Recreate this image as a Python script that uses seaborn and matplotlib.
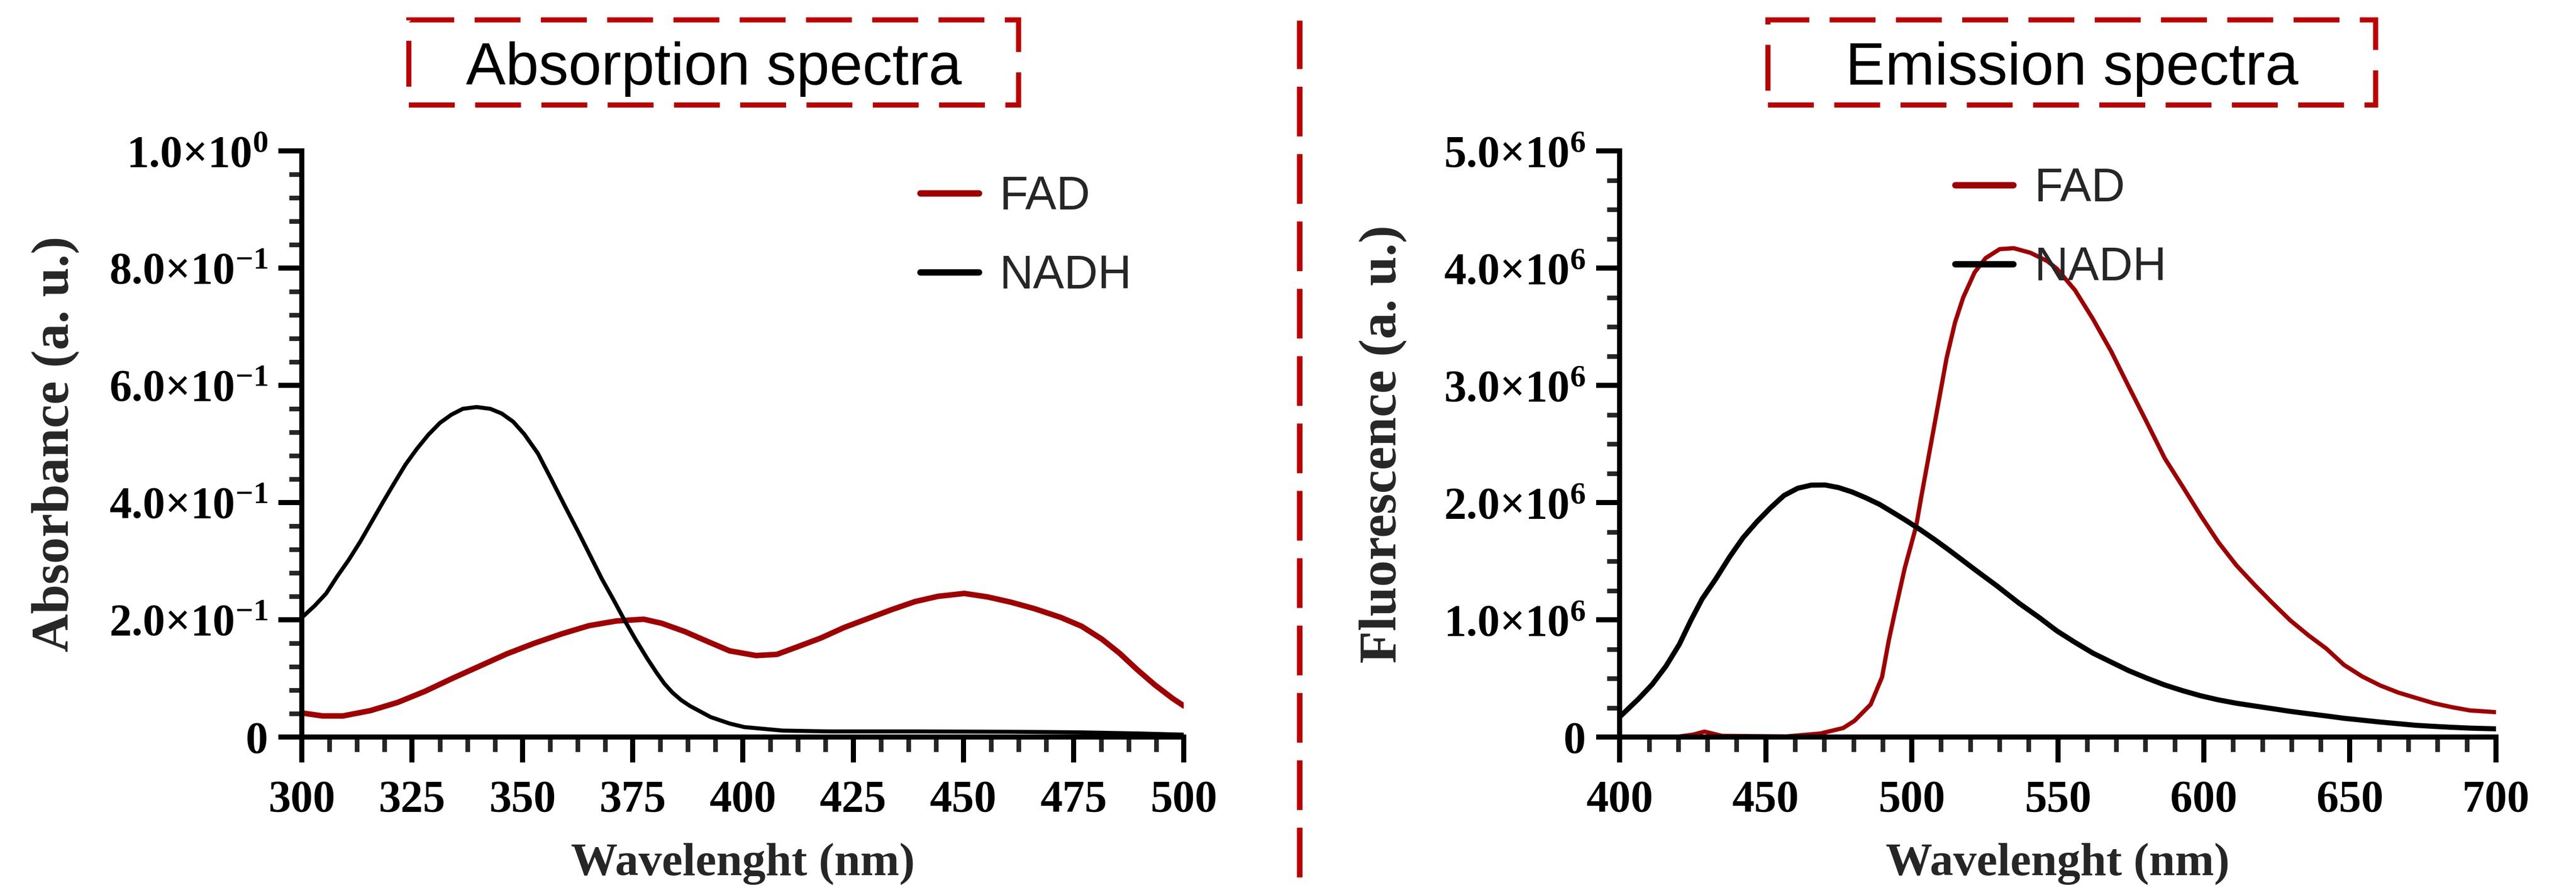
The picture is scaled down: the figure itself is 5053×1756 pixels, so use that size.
import numpy as np
import pandas as pd
import seaborn as sns
import matplotlib
matplotlib.use("Agg")
import matplotlib.pyplot as plt
from matplotlib.patches import Rectangle
from matplotlib.lines import Line2D
from matplotlib.ticker import MultipleLocator

# ---- absorption spectra ----
abs_nadh_wl = [300.3, 302.9, 305.5, 308, 310.6, 313.2, 315.8, 318.4, 321, 323.5, 326.1, 328.7, 331.3,
               333.9, 336.5, 339.6, 342.7, 345.3, 347.9, 350.4, 353.5, 356.6, 359.7, 362.8, 365.4,
               368, 370.6, 373.1, 375.7, 378.3, 380.4, 382.2, 384, 386, 388, 392.7, 397, 400.3, 409,
               420, 440, 460, 476, 490, 500]
abs_nadh = [0.206, 0.224, 0.245, 0.274, 0.302, 0.333, 0.367, 0.401, 0.434, 0.465, 0.492, 0.516, 0.536,
            0.550, 0.560, 0.563, 0.560, 0.552, 0.538, 0.517, 0.484, 0.439, 0.393, 0.348, 0.309, 0.270,
            0.235, 0.200, 0.166, 0.134, 0.110, 0.091, 0.076, 0.063, 0.053, 0.034, 0.023, 0.017, 0.011,
            0.0095, 0.0095, 0.009, 0.008, 0.006, 0.004]

abs_fad_wl = [300, 304.7, 309.3, 315.5, 321.7, 327.9, 334.1, 340.3, 346.5, 352.7, 358.9, 365.1, 371.3,
              377.5, 381.6, 386.8, 392, 397, 403, 407.7, 412.4, 417.7, 423, 428.3, 433.6, 439, 444.2,
              450.2, 455.5, 460.8, 466.1, 472.1, 476.8, 481.4, 485.4, 489.4, 493.4, 497.4, 500]
abs_fad = [0.041, 0.036, 0.036, 0.045, 0.059, 0.078, 0.100, 0.121, 0.142, 0.160, 0.176, 0.190, 0.198,
           0.201, 0.194, 0.180, 0.163, 0.147, 0.139, 0.141, 0.154, 0.169, 0.187, 0.202, 0.217, 0.231,
           0.240, 0.245, 0.239, 0.230, 0.219, 0.204, 0.189, 0.167, 0.143, 0.115, 0.089, 0.066, 0.053]

# ---- emission spectra (x1e6) ----
em_nadh_wl = [400.2, 406.4, 411.1, 415.8, 420.4, 424.3, 428.2, 432.9, 437.6, 442.2, 446.9, 451.6,
              456.2, 460.9, 465.6, 470.3, 474.9, 479.6, 484.3, 489, 493.6, 498.3, 503, 507.6, 512.3,
              517, 521.5, 529.1, 536.8, 543.6, 549.7, 555.9, 562, 568.2, 574.3, 580.5, 586.6, 592.8,
              598.9, 605, 611.2, 617.3, 623.5, 629.6, 635.8, 641.9, 648, 654.2, 660.3, 666.5, 672.6,
              678.8, 684.9, 691.1, 700]
em_nadh = [0.177, 0.325, 0.449, 0.604, 0.791, 0.993, 1.178, 1.350, 1.536, 1.700, 1.835, 1.955, 2.060,
           2.122, 2.149, 2.150, 2.128, 2.090, 2.040, 1.984, 1.915, 1.843, 1.767, 1.688, 1.603, 1.515,
           1.430, 1.290, 1.140, 1.020, 0.905, 0.807, 0.716, 0.640, 0.566, 0.502, 0.444, 0.395, 0.352,
           0.317, 0.288, 0.265, 0.242, 0.219, 0.199, 0.180, 0.160, 0.144, 0.128, 0.114, 0.100, 0.091,
           0.083, 0.076, 0.070]

em_fad_wl = [400, 419, 425, 429, 435, 457, 468.7, 476.5, 480.4, 485.9, 489.8, 492.1, 494.1, 497.6,
             501.5, 503.2, 506.1, 509, 511.9, 514.8, 517.6, 521.5, 525.3, 530.1, 534.9, 540.6, 546.4,
             549.7, 555.9, 562, 568.2, 574.3, 580.5, 586.6, 592.8, 598.9, 605, 611.2, 617.3, 623.5,
             629.6, 635.8, 641.9, 648, 654.2, 660.3, 666.5, 672.6, 678.8, 684.9, 691.1, 700]
em_fad = [0.0, 0.0, 0.02, 0.046, 0.01, 0.005, 0.03, 0.077, 0.139, 0.278, 0.511, 0.822, 1.054, 1.443,
          1.800, 2.043, 2.439, 2.835, 3.232, 3.537, 3.750, 3.964, 4.086, 4.162, 4.170, 4.131, 4.060,
          3.994, 3.811, 3.567, 3.293, 2.988, 2.683, 2.378, 2.134, 1.890, 1.661, 1.463, 1.300, 1.143,
          0.995, 0.868, 0.755, 0.615, 0.517, 0.441, 0.380, 0.334, 0.288, 0.255, 0.227, 0.212]

abs_yticks = [0, 0.2, 0.4, 0.6, 0.8, 1.0]
abs_ylabels = ["0", r"2.0×10$^{-1}$", r"4.0×10$^{-1}$", r"6.0×10$^{-1}$", r"8.0×10$^{-1}$", r"1.0×10$^{0}$"]
em_yticks = [0, 1, 2, 3, 4, 5]
em_ylabels = ["0", r"1.0×10$^{6}$", r"2.0×10$^{6}$", r"3.0×10$^{6}$", r"4.0×10$^{6}$", r"5.0×10$^{6}$"]

FAD_RED = "#a00000"
BOX_RED = "#c00000"

sns.set_theme(style="ticks")
plt.rcParams["font.family"] = ["Liberation Serif", "DejaVu Serif"]
plt.rcParams["font.weight"] = "bold"
plt.rcParams["mathtext.fontset"] = "custom"
plt.rcParams["mathtext.rm"] = "Liberation Serif:bold"
plt.rcParams["mathtext.it"] = "Liberation Serif:bold"
plt.rcParams["mathtext.bf"] = "Liberation Serif:bold"

fig = plt.figure(figsize=(5053 / 300, 1756 / 300), dpi=300)
ax1 = fig.add_axes([0.1172, 0.1765, 0.3424, 0.6549])
ax2 = fig.add_axes([0.6288, 0.1765, 0.3401, 0.6549])

sns.lineplot(x=abs_fad_wl, y=abs_fad, ax=ax1, color=FAD_RED, lw=2.6, label="FAD")
sns.lineplot(x=abs_nadh_wl, y=abs_nadh, ax=ax1, color="black", lw=1.9, label="NADH")
sns.lineplot(x=em_fad_wl, y=em_fad, ax=ax2, color=FAD_RED, lw=2.0, label="FAD")
sns.lineplot(x=em_nadh_wl, y=em_nadh, ax=ax2, color="black", lw=2.4, label="NADH")

setups = [
    (ax1, (300, 500), 25, 6.25, (0, 1.0), abs_yticks, abs_ylabels, 0.04,
     "Absorbance (a. u.)", -0.252, (0.701, 0.958)),
    (ax2, (400, 700), 50, 10, (0, 5), em_yticks, em_ylabels, 0.25,
     "Fluorescence (a. u.)", -0.243, (0.3826, 0.972)),
]
for ax, xl, xmaj, xmin, yl, yt, ylab, ymin, ytitle, ylx, legpos in setups:
    ax.set_xlim(*xl)
    ax.set_ylim(*yl)
    ax.xaxis.set_major_locator(MultipleLocator(xmaj))
    ax.xaxis.set_minor_locator(MultipleLocator(xmin))
    ax.set_yticks(yt)
    ax.set_yticklabels(ylab)
    ax.yaxis.set_minor_locator(MultipleLocator(ymin))
    sns.despine(ax=ax)
    for s in ("left", "bottom"):
        ax.spines[s].set_linewidth(2.4)
        ax.spines[s].set_color("black")
    ax.tick_params(axis="x", which="major", length=12, width=2.4, pad=8, labelsize=21, colors="black")
    ax.tick_params(axis="x", which="minor", length=7, width=2.2)
    ax.tick_params(axis="y", which="major", length=11, width=2.4, pad=5, labelsize=21, colors="black")
    ax.tick_params(axis="y", which="minor", length=6, width=2.2)
    ax.set_xlabel("Wavelenght (nm)", fontsize=22, fontweight="bold")
    ax.xaxis.set_label_coords(0.5, -0.18)
    ax.set_ylabel(ytitle, fontsize=25, fontweight="bold")
    ax.yaxis.set_label_coords(ylx, 0.5)
    leg = ax.legend(loc="upper left", bbox_to_anchor=legpos, frameon=False, borderpad=0,
                    borderaxespad=0, handlelength=1.25, handletextpad=0.45, labelspacing=0.75,
                    prop={"family": "Liberation Sans", "size": 22, "weight": "normal"})
    for h in leg.get_lines():
        h.set_linewidth(3.0)

# dashed title boxes
for x0, x1, title in [(0.1587, 0.3954, "Absorption spectra"), (0.6863, 0.9222, "Emission spectra")]:
    fig.add_artist(Rectangle((x0, 0.8827), x1 - x0, 0.9778 - 0.8827, transform=fig.transFigure,
                             fill=False, ec=BOX_RED, lw=2.4, ls=(0, (9, 4))))
    fig.text((x0 + x1) / 2, 0.923, title, ha="center", va="center", fontsize=28,
             family="Liberation Sans", fontweight="normal", color="black")

# dashed vertical divider
fig.add_artist(Line2D([0.5045, 0.5045], [0.02, 0.977], transform=fig.transFigure,
                      color=BOX_RED, lw=2.6, ls=(0, (9, 3.2))))

fig.savefig("out.png", dpi=300, facecolor="white")
